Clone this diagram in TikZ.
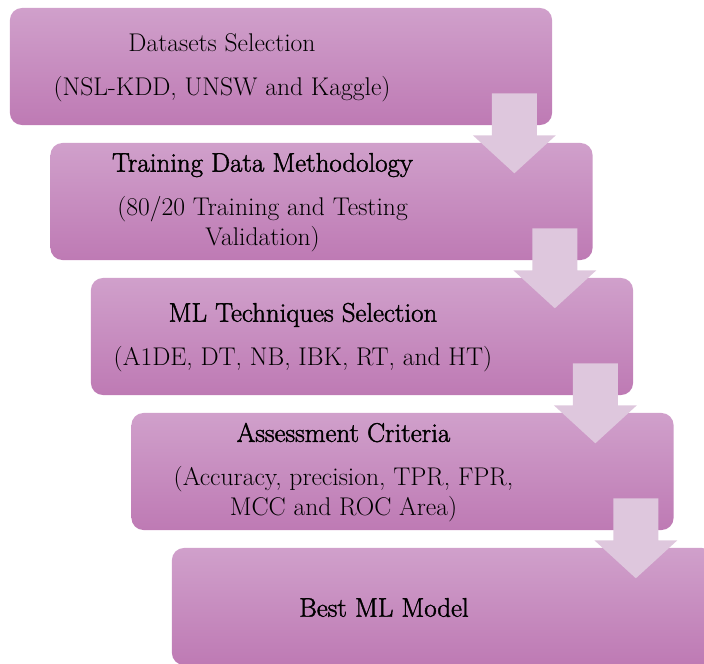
\documentclass[tikz,border=0pt]{standalone}
\usepackage{fontspec}
\newfontfamily\steptitle[FakeBold=1.6,Scale=1.05]{Latin Modern Roman}
\usetikzlibrary{calc}
\definecolor{steptop}{RGB}{208,160,203}
\definecolor{stepbot}{RGB}{190,122,180}
\definecolor{downfill}{RGB}{222,199,221}
\begin{document}
\begin{tikzpicture}[x=0.025cm,y=-0.025cm,
 stepbox/.style={rounded corners=0.3cm,top color=steptop,bottom color=stepbot,minimum width=13.55cm,minimum height=2.925cm,inner sep=0pt},
 steptxt/.style={align=center,font=\fontsize{18.2}{21.3}\selectfont},
 stepdown/.style={fill=downfill}]
\useasboundingbox (0,0) rectangle (704,664);
\clip (0,0) rectangle (704,664);
\node[stepbox] (s1) at (281,66.5) {};
\node[stepbox] (s2) at (321.5,201.5) {};
\node[stepbox] (s3) at (362,336.5) {};
\node[stepbox] (s4) at (402.5,471.5) {};
\node[stepbox] (s5) at (443,606.5) {};
\foreach \i/\j in {1/2,2/3,3/4,4/5}
  \fill[stepdown] ($(s\i.south east)+(-60.5,-32)$) -- ++(45,0) -- ++(0,42) -- ++(19,0)
    -- ++(-41.5,38) -- ++(-41.5,-38) -- ++(19,0) -- cycle;
\node[steptxt] (t1) at (222,67.5) {Datasets Selection\\[10pt](NSL-KDD, UNSW and Kaggle)};
\node[steptxt] (t2) at (262.5,202.5) {{\steptitle Training Data Methodology}\\[10pt](80/20 Training and Testing\\Validation)};
\node[steptxt] (t3) at (303,337.5) {{\steptitle ML Techniques Selection}\\[10pt](A1DE, DT, NB, IBK, RT, and HT)};
\node[steptxt] (t4) at (343.5,472.5) {{\steptitle Assessment Criteria}\\[10pt](Accuracy, precision, TPR, FPR,\\MCC and ROC Area)};
\node[steptxt] (t5) at (384,607.5) {{\steptitle Best ML Model}};
\end{tikzpicture}
\end{document}
